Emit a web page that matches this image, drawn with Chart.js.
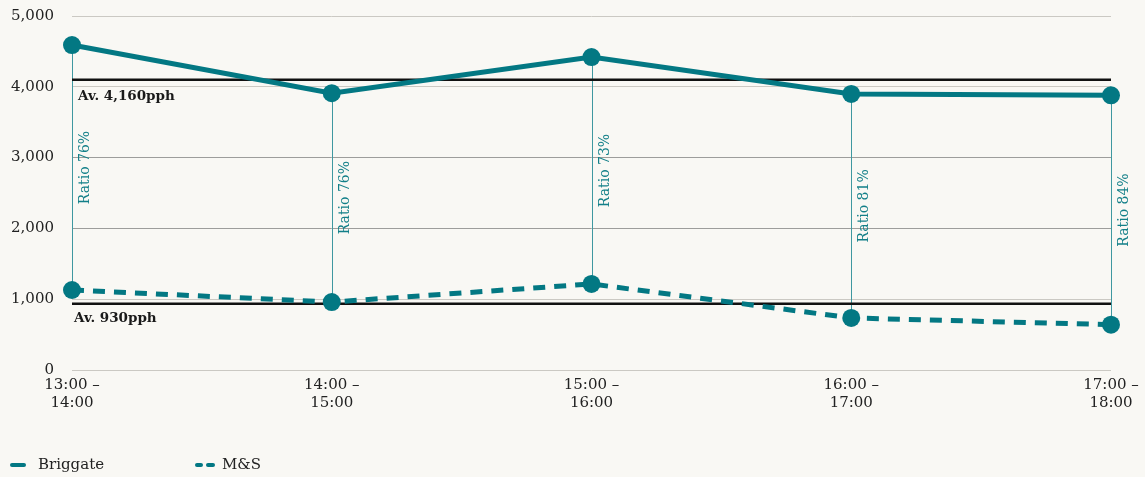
<!DOCTYPE html>
<html>
<head>
<meta charset="utf-8">
<script src="https://cdn.jsdelivr.net/npm/chart.js@4"></script>
<style>
  html, body { margin: 0; padding: 0; background: #f9f8f4; }
  #wrap { width: 1145px; height: 477px; position: relative; }
</style>
</head>
<body>
<div id="wrap"><canvas id="c"></canvas></div>
<script>
const categories = [["13:00 –", "14:00"], ["14:00 –", "15:00"], ["15:00 –", "16:00"], ["16:00 –", "17:00"], ["17:00 –", "18:00"]];
const briggate = [4590, 3910, 4420, 3900, 3880];
const ms = [1130, 960, 1215, 735, 640];
const ratioLabels = ["Ratio 76%", "Ratio 76%", "Ratio 73%", "Ratio 81%", "Ratio 84%"];
const averageValues = [4100, 935];
const averageLabels = ["Av. 4,160pph", "Av. 930pph"];
const seriesNames = ["Briggate", "M&S"];
const yMin = 0, yMax = 5000, yStep = 1000;

const TEAL = "#037883";
const FONT = "'DejaVu Serif', serif";

const overlay = {
  id: "overlay",
  beforeDatasetsDraw(chart) {
    const ctx = chart.ctx, x = chart.scales.x, y = chart.scales.y, area = chart.chartArea;
    ctx.save();
    for (let i = 0; i < categories.length; i++) {
      const px = Math.round(x.getPixelForValue(i)) + 0.5;
      const y1 = y.getPixelForValue(briggate[i]);
      const y2 = y.getPixelForValue(ms[i]);
      ctx.strokeStyle = "#3f98a0";
      ctx.lineWidth = 1;
      ctx.beginPath(); ctx.moveTo(px, y1); ctx.lineTo(px, y2); ctx.stroke();
      ctx.save();
      ctx.translate(px + 13, (y1 + y2) / 2);
      ctx.rotate(-Math.PI / 2);
      ctx.fillStyle = "#127f88";
      ctx.font = "14px " + FONT;
      ctx.textAlign = "center"; ctx.textBaseline = "middle";
      ctx.fillText(ratioLabels[i], 0, 0);
      ctx.restore();
    }
    for (let i = 0; i < averageValues.length; i++) {
      const py = y.getPixelForValue(averageValues[i]);
      ctx.strokeStyle = "#111";
      ctx.lineWidth = 2.5;
      ctx.beginPath(); ctx.moveTo(area.left, py); ctx.lineTo(area.right, py); ctx.stroke();
      ctx.fillStyle = "#1a1a1a";
      ctx.font = "bold 13.5px " + FONT;
      ctx.textAlign = "left"; ctx.textBaseline = "middle";
      ctx.fillText(averageLabels[i], area.left + (i === 0 ? 6 : 2), py + (i === 0 ? 17 : 15));
    }
    ctx.restore();
  },
  afterDraw(chart) {
    const ctx = chart.ctx;
    ctx.save();
    const ly = 465;
    ctx.strokeStyle = TEAL; ctx.lineWidth = 4; ctx.lineCap = "round";
    ctx.beginPath(); ctx.moveTo(12, ly); ctx.lineTo(24, ly); ctx.stroke();
    ctx.beginPath(); ctx.moveTo(197, ly); ctx.lineTo(201, ly); ctx.stroke();
    ctx.beginPath(); ctx.moveTo(208, ly); ctx.lineTo(213, ly); ctx.stroke();
    ctx.fillStyle = "#222";
    ctx.font = "15px " + FONT;
    ctx.textAlign = "left"; ctx.textBaseline = "middle";
    ctx.fillText(seriesNames[0], 38, ly);
    ctx.fillText(seriesNames[1], 222, ly);
    ctx.restore();
  }
};

new Chart(document.getElementById("c"), {
  type: "line",
  data: {
    labels: categories,
    datasets: [
      { label: seriesNames[0], data: briggate, borderColor: TEAL, backgroundColor: TEAL,
        borderWidth: 5, pointRadius: 9, pointHoverRadius: 9, pointBackgroundColor: TEAL, pointBorderWidth: 0, tension: 0 },
      { label: seriesNames[1], data: ms, borderColor: TEAL, backgroundColor: TEAL,
        borderWidth: 5, borderDash: [12, 9], pointRadius: 9, pointHoverRadius: 9, pointBackgroundColor: TEAL, pointBorderWidth: 0, tension: 0 }
    ]
  },
  options: {
    responsive: true,
    maintainAspectRatio: false,
    animation: false,
    layout: { padding: { top: 16, right: 34, bottom: 0, left: 0 } },
    plugins: { legend: { display: false }, tooltip: { enabled: false } },
    scales: {
      x: {
        offset: false,
        grid: { display: false, drawTicks: false },
        border: { display: false },
        ticks: { color: "#222", font: { family: FONT, size: 15 }, padding: 6, maxRotation: 0, autoSkip: false, lineHeight: 1.07 },
        afterFit(s) { s.height = 107; s.paddingLeft = 0; s.paddingRight = 0; }
      },
      y: {
        min: yMin, max: yMax,
        grid: {
          drawTicks: false,
          lineWidth: 1,
          color: (c) => {
            const v = c.tick && c.tick.value;
            return (v === 2000 || v === 3000) ? "#9d9d9b" : "#cbc9c3";
          }
        },
        border: { display: false },
        ticks: { stepSize: yStep, color: "#222", font: { family: FONT, size: 15 }, padding: 18,
          callback: (v) => v.toLocaleString("en-US") },
        afterFit(s) { s.width = 72; s.paddingTop = 0; s.paddingBottom = 0; }
      }
    }
  },
  plugins: [overlay]
});
</script>
</body>
</html>
